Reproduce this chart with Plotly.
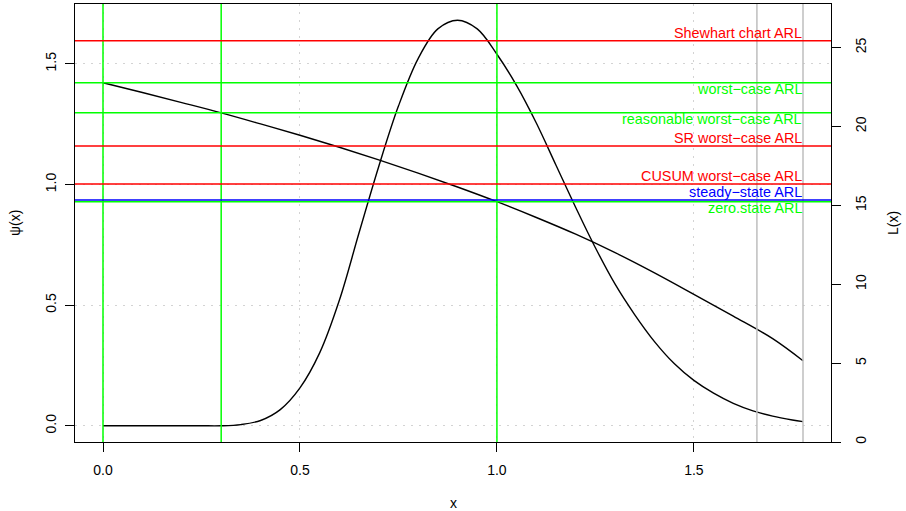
import plotly.graph_objects as go

# Density psi(x) of the detection statistic
psi_x = [0.0, 0.05, 0.1, 0.15, 0.2, 0.25, 0.3, 0.35, 0.4, 0.45, 0.5, 0.55, 0.6,
         0.65, 0.7, 0.75, 0.8, 0.85, 0.9, 0.95, 1.0, 1.05, 1.1, 1.15, 1.2, 1.25,
         1.3, 1.35, 1.4, 1.45, 1.5, 1.55, 1.6, 1.65, 1.7, 1.75, 1.777]
psi_y = [0.0, 0.0, 0.0, 0.0, 0.0, 0.0, 0.0, 0.005, 0.022, 0.067, 0.157, 0.302,
         0.52, 0.80, 1.075, 1.325, 1.522, 1.645, 1.681, 1.645, 1.54, 1.41, 1.255,
         1.08, 0.905, 0.738, 0.587, 0.46, 0.349, 0.258, 0.188, 0.135, 0.093,
         0.062, 0.04, 0.024, 0.017]

# ARL as a function of the headstart x
L_x = [0.0, 0.1, 0.2, 0.3, 0.4, 0.5, 0.6, 0.7, 0.8, 0.9, 1.0, 1.1, 1.2, 1.3,
       1.4, 1.5, 1.6, 1.7, 1.777]
L_y = [22.77, 22.15, 21.51, 20.86, 20.16, 19.44, 18.68, 17.88, 17.04, 16.16,
       15.23, 14.23, 13.17, 12.00, 10.72, 9.36, 7.98, 6.55, 5.15]

# Reference ARL levels
arl_names = ["Shewhart chart ARL", "worst−case ARL", "reasonable worst−case ARL",
             "SR worst−case ARL", "CUSUM worst−case ARL", "steady−state ARL",
             "zero.state ARL"]
arl_values = [25.43, 22.77, 20.87, 18.76, 16.35, 15.34, 15.23]
arl_colours = ["#FF0000", "#00FF00", "#00FF00", "#FF0000", "#FF0000", "#0000FF", "#00FF00"]
arl_above = [True, False, False, True, True, True, False]

green_x = [0.0, 0.3, 1.0]
grey_x = [1.66, 1.777]

x_ticks = [0.0, 0.5, 1.0, 1.5]
psi_ticks = [0.0, 0.5, 1.0, 1.5]
L_ticks = [0, 5, 10, 15, 20, 25]

FONT = "Liberation Sans, Arial, Helvetica, sans-serif"

fig = go.Figure()

fig.add_trace(go.Scatter(x=psi_x, y=psi_y, mode="lines",
                         line=dict(color="black", width=1.4, shape="spline", smoothing=1.0),
                         yaxis="y", showlegend=False, hoverinfo="skip"))
fig.add_trace(go.Scatter(x=L_x, y=L_y, mode="lines",
                         line=dict(color="black", width=1.4, shape="spline", smoothing=1.0),
                         yaxis="y2", showlegend=False, hoverinfo="skip"))

shapes = []
for v in grey_x:
    shapes.append(dict(type="line", xref="x", yref="paper", x0=v, x1=v, y0=0, y1=1,
                       line=dict(color="#BEBEBE", width=1.5)))
for v in green_x:
    shapes.append(dict(type="line", xref="x", yref="paper", x0=v, x1=v, y0=0, y1=1,
                       line=dict(color="#00FF00", width=1.5)))
for val, col in zip(arl_values, arl_colours):
    shapes.append(dict(type="line", xref="paper", yref="y2", x0=0, x1=1, y0=val, y1=val,
                       line=dict(color=col, width=1.5)))

annotations = []
for name, val, col, above in zip(arl_names, arl_values, arl_colours, arl_above):
    annotations.append(dict(x=max(L_x), y=val, xref="x", yref="y2", text=name,
                            showarrow=False, xanchor="right", yanchor="middle",
                            yshift=8 if above else -6, borderpad=0,
                            font=dict(family=FONT, size=14.4, color=col)))

annotations += [
    dict(x=-0.0794, y=0.5, xref="paper", yref="paper", text="ψ(x)", textangle=-90,
         showarrow=False, xanchor="center", yanchor="middle",
         font=dict(family=FONT, size=14, color="black")),
    dict(x=1.082, y=0.5, xref="paper", yref="paper", text="L(x)", textangle=-90,
         showarrow=False, xanchor="center", yanchor="middle",
         font=dict(family=FONT, size=14, color="black")),
    dict(x=0.5, y=-0.139, xref="paper", yref="paper", text="x",
         showarrow=False, xanchor="center", yanchor="middle",
         font=dict(family=FONT, size=14, color="black")),
]

xr = [-0.04 * max(psi_x), 1.04 * max(psi_x)]
pmax = max(psi_y)
yr = [-0.04 * pmax, pmax * 1.04]

fig.update_layout(
    width=906, height=511,
    margin=dict(l=75, r=75, t=4, b=69),
    paper_bgcolor="white", plot_bgcolor="white",
    font=dict(family=FONT, size=14, color="black"),
    shapes=shapes, annotations=annotations,
    xaxis=dict(range=xr, tickvals=x_ticks, ticktext=[f"{t:.1f}" for t in x_ticks],
               ticks="outside", ticklen=9, tickcolor="black", tickwidth=1,
               showline=True, linecolor="black", linewidth=1, mirror=True,
               showgrid=True, gridcolor="#D3D3D3", griddash="2px,6px", gridwidth=1,
               zeroline=False, ticklabelstandoff=6),
    yaxis=dict(range=yr, tickvals=psi_ticks, ticktext=[f"{t:.1f}" for t in psi_ticks],
               tickangle=-90, ticks="outside", ticklen=9, tickcolor="black", tickwidth=1,
               showline=True, linecolor="black", linewidth=1, mirror=True,
               showgrid=True, gridcolor="#D3D3D3", griddash="2px,6px", gridwidth=1,
               zeroline=False, ticklabelstandoff=3),
    yaxis2=dict(range=[0, 27.76], tickvals=L_ticks, ticktext=[str(t) for t in L_ticks],
                overlaying="y", side="right", tickangle=-90,
                ticks="outside", ticklen=9, tickcolor="black", tickwidth=1,
                showline=True, linecolor="black", linewidth=1.2,
                showgrid=False, zeroline=False, ticklabelstandoff=8),
)

fig.write_html("out.html")
